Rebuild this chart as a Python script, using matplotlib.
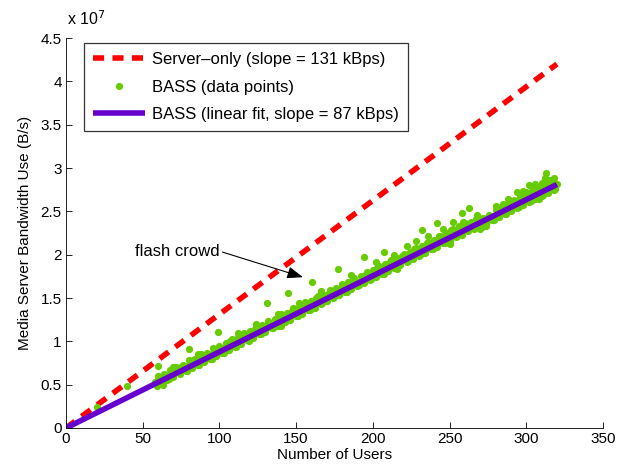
import matplotlib
matplotlib.use("Agg")
import matplotlib.pyplot as plt
import numpy as np

plt.rcParams["font.family"] = ["Liberation Sans", "DejaVu Sans"]

# reference lines (users, bandwidth in 1e7 B/s)
server_x = [0, 320]
server_y = [0, 4.2]
fit_x = [0, 320]
fit_y = [0, 2.81]

bass_a_x = [58, 60, 62, 64, 66, 68, 70, 72, 74, 76, 78, 80, 82, 84, 86, 88, 90, 92, 94, 96,
            98, 100, 102, 104, 106, 108, 110, 112, 114, 116, 118, 120, 122, 124, 126, 128, 130,
            132, 134, 136, 138, 140, 142, 144, 146, 148, 150, 152, 154, 156, 158, 160, 162, 164,
            166, 168, 170, 172, 174, 176, 178, 180, 182, 184, 186, 188, 190, 192, 194, 196, 198,
            200, 202, 204, 206, 208, 210, 212, 214, 216, 218, 220, 222, 224, 226, 228, 230, 232,
            234, 236, 238, 240, 242, 244, 246, 248, 250, 252, 254, 256, 258, 260, 262, 264, 266,
            268, 270, 272, 274, 276, 278, 280, 282, 284, 286, 288, 290, 292, 294, 296, 298, 300,
            302, 304, 306, 308, 310, 312, 314, 316, 318, 320]
bass_a_y = [0.53, 0.55, 0.57, 0.55, 0.60, 0.62, 0.63, 0.66, 0.65, 0.70, 0.71, 0.72, 0.75, 0.74,
            0.79, 0.80, 0.81, 0.84, 0.83, 0.87, 0.88, 0.90, 0.92, 0.91, 0.96, 0.97, 0.98, 1.00,
            1.01, 1.04, 1.05, 1.06, 1.09, 1.10, 1.12, 1.13, 1.16, 1.17, 1.18, 1.21, 1.22, 1.24,
            1.26, 1.27, 1.30, 1.31, 1.33, 1.34, 1.36, 1.39, 1.40, 1.42, 1.43, 1.46, 1.48, 1.49,
            1.51, 1.53, 1.54, 1.57, 1.58, 1.60, 1.61, 1.63, 1.66, 1.67, 1.69, 1.70, 1.72, 1.75,
            1.76, 1.78, 1.80, 1.81, 1.84, 1.85, 1.87, 1.88, 1.90, 1.93, 1.94, 1.96, 1.97, 1.99,
            2.02, 2.03, 2.05, 2.06, 2.08, 2.11, 2.12, 2.14, 2.15, 2.17, 2.20, 2.22, 2.24, 2.25,
            2.28, 2.30, 2.33, 2.34, 2.33, 2.35, 2.36, 2.36, 2.38, 2.39, 2.40, 2.42, 2.44, 2.46,
            2.48, 2.50, 2.52, 2.53, 2.55, 2.57, 2.59, 2.61, 2.62, 2.65, 2.67, 2.68, 2.70, 2.72,
            2.73, 2.75, 2.77, 2.78, 2.80, 2.82]

bass_b_x = [59, 63, 67, 71, 75, 79, 83, 87, 91, 95, 99, 103, 107, 111, 115, 119, 123, 127, 131,
            135, 139, 143, 147, 151, 155, 159, 163, 167, 171, 175, 179, 183, 187, 191, 195, 199,
            203, 207, 211, 215, 219, 223, 227, 231, 235, 239, 243, 247, 251, 255, 259, 263, 267,
            271, 275, 279, 283, 287, 291, 295, 299, 303, 307, 311, 315, 319]
bass_b_y = [0.49, 0.60, 0.56, 0.68, 0.70, 0.66, 0.78, 0.73, 0.84, 0.80, 0.91, 0.86, 1.00, 0.94,
            1.05, 1.00, 1.14, 1.08, 1.19, 1.15, 1.27, 1.22, 1.35, 1.29, 1.42, 1.36, 1.50, 1.44,
            1.55, 1.51, 1.62, 1.57, 1.71, 1.65, 1.76, 1.72, 1.85, 1.78, 1.92, 1.86, 1.98, 1.93,
            2.07, 2.00, 2.13, 2.06, 2.21, 2.14, 2.29, 2.22, 2.38, 2.30, 2.41, 2.32, 2.44, 2.40,
            2.53, 2.47, 2.60, 2.55, 2.68, 2.62, 2.75, 2.69, 2.81, 2.76]

bass_c_x = [61, 65, 69, 73, 77, 81, 85, 89, 93, 97, 101, 105, 109, 113, 117, 121, 125, 129, 133,
            137, 141, 145, 149, 153, 157, 161, 165, 169, 173, 177, 181, 185, 189, 193, 197, 201,
            205, 209, 213, 217, 221, 225, 229, 233, 237, 241, 245, 249, 253, 257, 261, 265, 269,
            273, 277, 281, 285, 289, 293, 297, 301, 305, 309, 313, 317,
            296, 305, 310, 300, 315, 308, 290, 285]
bass_c_y = [0.54, 0.58, 0.61, 0.65, 0.68, 0.73, 0.76, 0.79, 0.83, 0.86, 0.89, 0.93, 0.96, 1.00,
            1.03, 1.07, 1.10, 1.14, 1.17, 1.21, 1.24, 1.28, 1.31, 1.35, 1.38, 1.42, 1.45, 1.49,
            1.52, 1.56, 1.59, 1.63, 1.66, 1.70, 1.73, 1.77, 1.80, 1.84, 1.87, 1.91, 1.94, 1.98,
            2.01, 2.05, 2.08, 2.12, 2.15, 2.19, 2.22, 2.26, 2.29, 2.33, 2.36, 2.37, 2.41, 2.45,
            2.49, 2.52, 2.56, 2.60, 2.63, 2.67, 2.70, 2.74, 2.77,
            2.70, 2.78, 2.83, 2.72, 2.86, 2.64, 2.62, 2.58]

# upper edge of the band
bass_d_x = [60, 64, 68, 72, 76, 80, 84, 88, 92, 96, 100, 104, 108, 112, 116, 120, 124, 128, 132,
            136, 140, 144, 148, 152, 156, 160, 164, 168, 172, 176, 180, 184, 188, 192, 196, 200,
            204, 208, 212, 216, 220, 224, 228, 232, 236, 240, 244, 248, 252, 256, 260, 264, 268,
            272, 276, 280, 284, 288, 292, 296, 300, 304, 308, 312, 316]
bass_d_y = [0.60, 0.62, 0.67, 0.70, 0.73, 0.78, 0.80, 0.85, 0.87, 0.92, 0.95, 0.98, 1.03, 1.05,
            1.10, 1.12, 1.17, 1.19, 1.24, 1.26, 1.31, 1.33, 1.38, 1.40, 1.45, 1.47, 1.52, 1.54,
            1.59, 1.61, 1.66, 1.68, 1.73, 1.75, 1.80, 1.82, 1.87, 1.89, 1.94, 1.96, 2.01, 2.03,
            2.08, 2.10, 2.15, 2.17, 2.22, 2.25, 2.30, 2.33, 2.37, 2.38, 2.40, 2.42, 2.46, 2.52,
            2.56, 2.59, 2.63, 2.66, 2.70, 2.73, 2.77, 2.80, 2.84]

# lower edge of the band
bass_e_x = [62, 66, 70, 74, 78, 82, 86, 90, 94, 98, 102, 106, 110, 114, 118, 122, 126, 130, 134,
            138, 142, 146, 150, 154, 158, 162, 166, 170, 174, 178, 182, 186, 190, 194, 198, 202,
            206, 210, 214, 218, 222, 226, 230, 234, 238, 242, 246, 250, 254, 258, 262, 266, 270,
            274, 278, 282, 286, 290, 294, 298, 302, 306, 310, 314, 318]
bass_e_y = [0.52, 0.55, 0.59, 0.62, 0.66, 0.69, 0.73, 0.76, 0.80, 0.83, 0.87, 0.90, 0.94, 0.97,
            1.01, 1.04, 1.08, 1.11, 1.15, 1.18, 1.22, 1.25, 1.29, 1.32, 1.36, 1.39, 1.43, 1.46,
            1.50, 1.53, 1.57, 1.60, 1.64, 1.67, 1.71, 1.74, 1.78, 1.81, 1.85, 1.88, 1.92, 1.95,
            1.99, 2.02, 2.06, 2.09, 2.13, 2.16, 2.20, 2.23, 2.27, 2.30, 2.33, 2.36, 2.40, 2.43,
            2.47, 2.50, 2.54, 2.57, 2.61, 2.64, 2.68, 2.71, 2.75]

# scattered points just off the band
bass_f_x = [70, 86, 112, 124, 138, 140, 152, 166, 186, 202, 214, 216, 222, 228, 236, 246, 250,
            252, 268, 270, 274, 280, 288, 294, 298, 302, 306, 312, 318]
bass_f_y = [0.70, 0.85, 1.10, 1.20, 1.32, 1.18, 1.44, 1.58, 1.76, 1.92, 2.00, 1.83, 2.10, 2.16,
            2.22, 2.30, 2.12, 2.38, 2.46, 2.30, 2.33, 2.56, 2.64, 2.72, 2.74, 2.80, 2.82, 2.88,
            2.88]

# isolated points (early samples, flash crowd and other outliers)
bass_out_x = [0, 20, 40, 60, 63, 80, 99, 131, 145, 160.5, 177, 194, 207, 232, 242, 258, 263, 313]
bass_out_y = [0, 0.24, 0.48, 0.72, 0.50, 0.91, 1.11, 1.44, 1.56, 1.69, 1.84, 1.97, 2.03, 2.28,
              2.36, 2.48, 2.54, 2.94]

scale = 1e7
red = "#FF0000"
green = "#66CC00"
purple = "#6600CC"

fig = plt.figure(figsize=(6.26, 4.71), dpi=100)
ax = fig.add_axes([0.1054, 0.0913, 0.8578, 0.828])

ax.plot(server_x, np.array(server_y) * scale, color=red, lw=4, ls=(0, (2.0, 1.5)),
        label="Server\u2013only (slope = 131 kBps)")

pts_x = bass_a_x + bass_b_x + bass_c_x + bass_d_x + bass_e_x + bass_f_x + bass_out_x
pts_y = np.array(bass_a_y + bass_b_y + bass_c_y + bass_d_y + bass_e_y + bass_f_y
                 + bass_out_y) * scale
ax.plot(pts_x, pts_y, ls="none", marker="o", ms=5.2, mec="none", color=green,
        label="BASS (data points)")

ax.plot(fit_x, np.array(fit_y) * scale, color=purple, lw=4, solid_capstyle="butt",
        label="BASS (linear fit, slope = 87 kBps)")

ax.set_xlim(0, 350)
ax.set_ylim(0, 4.5e7)
ax.set_xticks(range(0, 351, 50))
ax.set_yticks(np.arange(0, 4.51, 0.5) * scale)
ax.set_yticklabels(["0", "0.5", "1", "1.5", "2", "2.5", "3", "3.5", "4", "4.5"])
ax.tick_params(direction="in", length=4, width=0.6, labelsize=11, pad=3)
for side in ("top", "right"):
    ax.spines[side].set_visible(False)
for side in ("left", "bottom"):
    ax.spines[side].set_linewidth(0.6)

ax.text(0.002, 1.025, r"x 10$^{7}$", transform=ax.transAxes, fontsize=11.5, ha="left",
        va="bottom")
ax.set_xlabel("Number of Users", fontsize=11, labelpad=1)
ax.set_ylabel("Media Server Bandwidth Use (B/s)", fontsize=11, labelpad=6)

ax.annotate("flash crowd", xy=(154.5, 1.74e7), xytext=(45, 2.04e7), fontsize=12,
            va="center", ha="left",
            arrowprops=dict(arrowstyle="-|>,head_length=0.8,head_width=0.3", color="black",
                            lw=0.8, shrinkA=0, shrinkB=0, relpos=(1.0, 0.5)))

leg = ax.legend(loc="upper left", bbox_to_anchor=(0.0335, 0.987), fontsize=12,
                handlelength=3.1, frameon=True, fancybox=False, edgecolor="black",
                borderpad=0.55, labelspacing=0.75, handletextpad=0.45, borderaxespad=0)
leg.get_frame().set_linewidth(0.9)

fig.savefig("out.png", dpi=100)
